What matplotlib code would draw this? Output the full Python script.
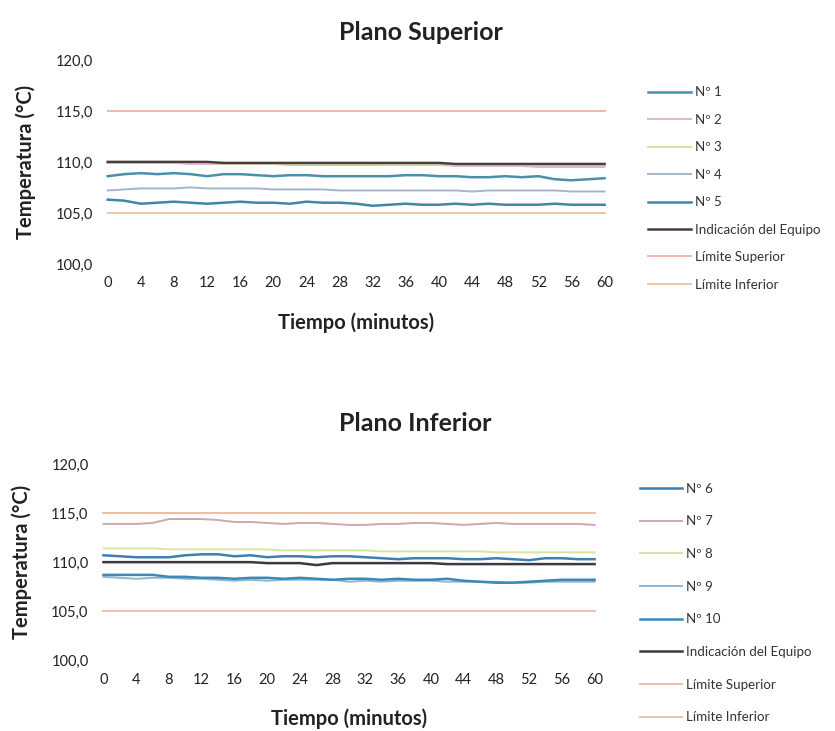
import matplotlib
matplotlib.use('Agg')
import matplotlib.pyplot as plt

# minutos (cada 2 min)
tiempo = list(range(0, 61, 2))

# Plano Superior
sup_n1 = [108.6, 108.8, 108.9, 108.8, 108.9, 108.8, 108.6, 108.8, 108.8, 108.7, 108.6,
          108.7, 108.7, 108.6, 108.6, 108.6, 108.6, 108.6, 108.7, 108.7, 108.6, 108.6,
          108.5, 108.5, 108.6, 108.5, 108.6, 108.3, 108.2, 108.3, 108.4]
sup_n2 = [109.9, 109.9, 109.9, 109.9, 109.9, 109.8, 109.8, 109.8, 109.8, 109.8, 109.8,
          109.7, 109.7, 109.7, 109.7, 109.7, 109.7, 109.7, 109.7, 109.7, 109.7, 109.6,
          109.6, 109.6, 109.6, 109.6, 109.5, 109.5, 109.5, 109.5, 109.5]
sup_n3 = [109.9, 109.9, 109.9, 109.9, 109.9, 109.9, 109.9, 109.8, 109.8, 109.8, 109.8,
          109.8, 109.8, 109.8, 109.8, 109.8, 109.8, 109.7, 109.7, 109.7, 109.7, 109.7,
          109.7, 109.7, 109.7, 109.7, 109.7, 109.7, 109.7, 109.7, 109.7]
sup_n4 = [107.2, 107.3, 107.4, 107.4, 107.4, 107.5, 107.4, 107.4, 107.4, 107.4, 107.3,
          107.3, 107.3, 107.3, 107.2, 107.2, 107.2, 107.2, 107.2, 107.2, 107.2, 107.2,
          107.1, 107.2, 107.2, 107.2, 107.2, 107.2, 107.1, 107.1, 107.1]
sup_n5 = [106.3, 106.2, 105.9, 106.0, 106.1, 106.0, 105.9, 106.0, 106.1, 106.0, 106.0,
          105.9, 106.1, 106.0, 106.0, 105.9, 105.7, 105.8, 105.9, 105.8, 105.8, 105.9,
          105.8, 105.9, 105.8, 105.8, 105.8, 105.9, 105.8, 105.8, 105.8]
sup_ind = [110.0, 110.0, 110.0, 110.0, 110.0, 110.0, 110.0, 109.9, 109.9, 109.9, 109.9,
           109.9, 109.9, 109.9, 109.9, 109.9, 109.9, 109.9, 109.9, 109.9, 109.9, 109.8,
           109.8, 109.8, 109.8, 109.8, 109.8, 109.8, 109.8, 109.8, 109.8]

# Plano Inferior
inf_n6 = [110.7, 110.6, 110.5, 110.5, 110.5, 110.7, 110.8, 110.8, 110.6, 110.7, 110.5,
          110.6, 110.6, 110.5, 110.6, 110.6, 110.5, 110.4, 110.3, 110.4, 110.4, 110.4,
          110.3, 110.3, 110.4, 110.3, 110.2, 110.4, 110.4, 110.3, 110.3]
inf_n7 = [113.9, 113.9, 113.9, 114.0, 114.4, 114.4, 114.4, 114.3, 114.1, 114.1, 114.0,
          113.9, 114.0, 114.0, 113.9, 113.8, 113.8, 113.9, 113.9, 114.0, 114.0, 113.9,
          113.8, 113.9, 114.0, 113.9, 113.9, 113.9, 113.9, 113.9, 113.8]
inf_n8 = [111.4, 111.4, 111.4, 111.4, 111.3, 111.3, 111.3, 111.3, 111.3, 111.3, 111.3,
          111.2, 111.2, 111.2, 111.2, 111.2, 111.2, 111.1, 111.1, 111.1, 111.1, 111.1,
          111.1, 111.1, 111.0, 111.0, 111.0, 111.0, 111.0, 111.0, 111.0]
inf_n9 = [108.5, 108.4, 108.3, 108.4, 108.4, 108.3, 108.3, 108.2, 108.1, 108.2, 108.1,
          108.2, 108.2, 108.2, 108.2, 108.0, 108.1, 108.0, 108.1, 108.1, 108.1, 108.0,
          108.0, 108.0, 108.0, 107.9, 107.9, 108.0, 108.0, 108.0, 108.0]
inf_n10 = [108.7, 108.7, 108.7, 108.7, 108.5, 108.5, 108.4, 108.4, 108.3, 108.4, 108.4,
           108.3, 108.4, 108.3, 108.2, 108.3, 108.3, 108.2, 108.3, 108.2, 108.2, 108.3,
           108.1, 108.0, 107.9, 107.9, 108.0, 108.1, 108.2, 108.2, 108.2]
inf_ind = [110.0, 110.0, 110.0, 110.0, 110.0, 110.0, 110.0, 110.0, 110.0, 110.0, 109.9,
           109.9, 109.9, 109.7, 109.9, 109.9, 109.9, 109.9, 109.9, 109.9, 109.9, 109.8,
           109.8, 109.8, 109.8, 109.8, 109.8, 109.8, 109.8, 109.8, 109.8]

lim_sup = [115.0] * len(tiempo)
lim_inf = [105.0] * len(tiempo)

yticks = [100, 105, 110, 115, 120]
ylabels = ['100,0', '105,0', '110,0', '115,0', '120,0']
xticks = list(range(0, 61, 4))

FONT = 'Lato'
TXT = '#222222'


def panel(fig, rect, title, title_xy, series, leg_x, leg_top, spacing):
    ax = fig.add_axes(rect)
    for y, lab, col, lw in series:
        ax.plot(tiempo, y, color=col, lw=lw, label=lab)
    ax.set_xlim(-0.3, 60.3)
    ax.set_ylim(100, 120)
    ax.set_yticks(yticks)
    ax.set_yticklabels(ylabels)
    ax.set_xticks(xticks)
    for s in ax.spines.values():
        s.set_visible(False)
    ax.tick_params(length=0, labelsize=10.5, colors=TXT, pad=9)
    for t in ax.get_xticklabels() + ax.get_yticklabels():
        t.set_fontfamily(FONT)
    fig.text(title_xy[0], title_xy[1], title, fontsize=18, fontweight='bold',
             family=FONT, color=TXT, ha='center', va='center')
    ax.set_xlabel('Tiempo (minutos)', fontsize=14.5, fontweight='bold', family=FONT,
                  color=TXT, labelpad=16)
    ax.set_ylabel('Temperatura (°C)', fontsize=14.5, fontweight='bold', family=FONT,
                  color=TXT, labelpad=14)
    fig.legend(*ax.get_legend_handles_labels(), loc='upper left',
               bbox_to_anchor=(leg_x, leg_top), frameon=False,
               prop={'family': FONT, 'size': 9.6}, handlelength=3.2,
               handletextpad=0.3, labelspacing=spacing, borderpad=0,
               labelcolor='#333333')
    return ax


def main():
    fig = plt.figure(figsize=(8.35, 7.31), dpi=100)

    top = [
        (sup_n1, 'Nº 1', '#4a8fae', 1.8),
        (sup_n2, 'Nº 2', '#e2b4c4', 1.4),
        (sup_n3, 'Nº 3', '#d6e09a', 1.4),
        (sup_n4, 'Nº 4', '#a4b4cc', 1.4),
        (sup_n5, 'Nº 5', '#3f87a6', 1.8),
        (sup_ind, 'Indicación del Equipo', '#4a3c44', 1.8),
        (lim_sup, 'Límite Superior', '#f0b8a8', 1.4),
        (lim_inf, 'Límite Inferior', '#f2c4a8', 1.4),
    ]
    bot = [
        (inf_n6, 'Nº 6', '#3f7fae', 1.8),
        (inf_n7, 'Nº 7', '#c8a8b4', 1.4),
        (inf_n8, 'Nº 8', '#d6e4a4', 1.4),
        (inf_n9, 'Nº 9', '#8cb8d4', 1.4),
        (inf_n10, 'Nº 10', '#3d88b4', 1.8),
        (inf_ind, 'Indicación del Equipo', '#3a3a44', 1.8),
        (lim_sup, 'Límite Superior', '#f2bca4', 1.4),
        (lim_inf, 'Límite Inferior', '#f0c0b0', 1.4),
    ]

    panel(fig, [0.126, 0.639, 0.601, 0.279], 'Plano Superior', (0.504, 0.955),
          top, 0.768, 0.891, 1.16)
    panel(fig, [0.121, 0.097, 0.594, 0.268], 'Plano Inferior', (0.497, 0.420),
          bot, 0.758, 0.349, 1.55)

    fig.savefig('out.png', dpi=100)


if __name__ == '__main__':
    main()
